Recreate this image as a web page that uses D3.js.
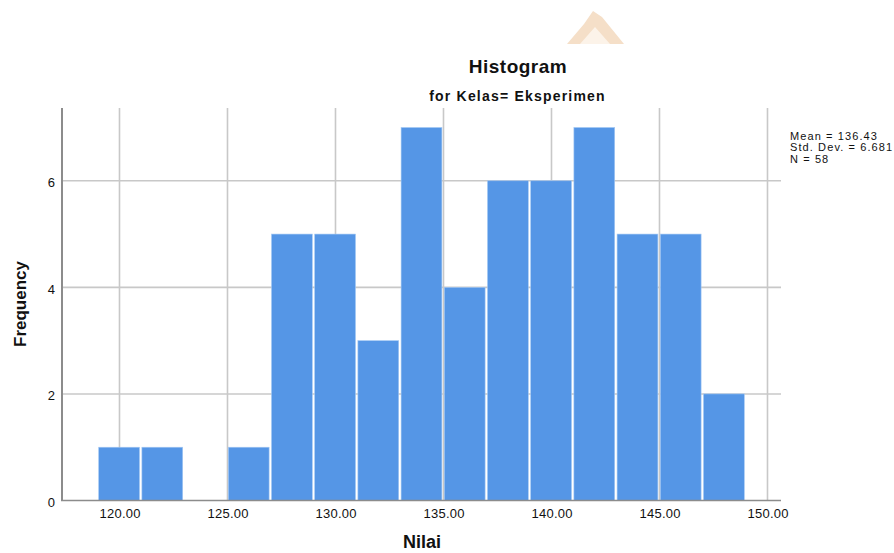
<!DOCTYPE html>
<html><head><meta charset="utf-8">
<script src="https://cdn.jsdelivr.net/npm/d3@7"></script>
<style>html,body{margin:0;background:#fff}svg{display:block}text{font-family:"Liberation Sans",Arial,sans-serif;fill:#111}</style>
</head><body><div id="c"></div>
<script>
const binStarts = [119,121,123,125,127,129,131,133,135,137,139,141,143,145,147];
const frequencies = [1,1,0,1,5,5,3,7,4,6,6,7,5,5,2];
const binWidth = 2;
const xTicks = [120,125,130,135,140,145,150];
const yTicks = [0,2,4,6];
const stats = ["Mean = 136.43","Std. Dev. = 6.681","N = 58"];
const title = "Histogram", subtitle = "for Kelas= Eksperimen", xLabel = "Nilai", yLabel = "Frequency";

const svg = d3.select("#c").append("svg").attr("width",894).attr("height",553);
const x = d3.scaleLinear().domain([120,150]).range([119.5,767.5]);
const y = d3.scaleLinear().domain([0,7]).range([500.5,127.5]);
const plotLeft = 62, plotRight = 781, plotTop = 108;

// faded watermark fragment at the top of the picture
const wm = svg.append("g");
wm.append("path").attr("d","M593,11 L602,17 L624,44 L567,44 L584,24 Z").attr("fill","#f5dfc8");
wm.append("path").attr("d","M595,27 L610,44 L580,44 Z").attr("fill","#fcf3e9");

const grid = svg.append("g").attr("stroke","#c8c8c8").attr("stroke-width",1.6);
grid.selectAll(".v").data(xTicks).join("line").attr("class","v")
  .attr("x1",d=>x(d)).attr("x2",d=>x(d)).attr("y1",plotTop).attr("y2",y(0));
grid.selectAll(".h").data(yTicks.filter(d=>d>0)).join("line").attr("class","h")
  .attr("x1",plotLeft).attr("x2",plotRight).attr("y1",d=>y(d)).attr("y2",d=>y(d));

svg.append("g").selectAll("rect").data(binStarts.map((s,i)=>({s,f:frequencies[i]})).filter(d=>d.f>0)).join("rect")
  .attr("x",d=>x(d.s)+0.8).attr("width",d=>x(d.s+binWidth)-x(d.s)-2.4)
  .attr("y",d=>y(d.f)).attr("height",d=>y(0)-y(d.f))
  .attr("fill","#5596e6").attr("stroke","#a3c8f3").attr("stroke-width",0.6);

const xAxis = svg.append("g").attr("transform",`translate(0,${y(0)})`)
  .call(d3.axisBottom(x).tickValues(xTicks).tickFormat(d3.format(".2f")).tickSize(0).tickPadding(8));
xAxis.select(".domain").remove();
xAxis.selectAll("text").attr("font-size",13).attr("font-family",'"Liberation Sans",Arial,sans-serif').attr("fill","#222").attr("textLength",41);

const yAxis = svg.append("g").attr("transform",`translate(${plotLeft},1.5)`)
  .call(d3.axisLeft(y).tickValues(yTicks).tickFormat(d3.format("d")).tickSize(0).tickPadding(7));
yAxis.select(".domain").remove();
yAxis.selectAll("text").attr("font-size",13).attr("font-family",'"Liberation Sans",Arial,sans-serif').attr("fill","#222");

svg.append("line").attr("x1",plotLeft).attr("x2",plotLeft).attr("y1",plotTop).attr("y2",y(0)+0.5).attr("stroke","#8c8c8c").attr("stroke-width",2);
svg.append("line").attr("x1",plotLeft-1).attr("x2",plotRight).attr("y1",y(0)).attr("y2",y(0)).attr("stroke","#8c8c8c").attr("stroke-width",1.6);

svg.append("text").attr("x",518).attr("y",73).attr("text-anchor","middle").attr("font-size",19).attr("letter-spacing",0.5).attr("font-weight","bold").text(title);
svg.append("text").attr("x",517.5).attr("y",101).attr("text-anchor","middle").attr("font-size",14).attr("font-weight","bold").attr("letter-spacing",1.2).text(subtitle);
svg.append("text").attr("x",422).attr("y",548).attr("text-anchor","middle").attr("font-size",18).attr("font-weight","bold").text(xLabel);
svg.append("text").attr("transform","translate(26,304) rotate(-90)").attr("text-anchor","middle").attr("font-size",17).attr("font-weight","bold").text(yLabel);
svg.append("g").selectAll("text").data(stats).join("text").attr("x",790).attr("y",(d,i)=>139.5+i*11.5).attr("font-size",11).attr("letter-spacing",1.1).text(d=>d);
</script></body></html>
